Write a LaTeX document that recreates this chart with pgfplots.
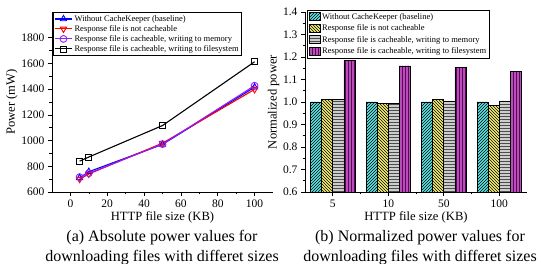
\documentclass[border=0pt]{standalone}
\usepackage{pgfplots}
\pgfplotsset{compat=1.18}
\usetikzlibrary{patterns}
\usepackage{fontspec}
\setmainfont{Liberation Serif}
\definecolor{mviolet}{RGB}{140,30,255}
\definecolor{bcyan}{RGB}{90,230,230}
\definecolor{byellow}{RGB}{245,240,110}
\definecolor{bgray}{RGB}{205,205,205}
\definecolor{bpurple}{RGB}{190,75,190}
\definecolor{bpurpledark}{RGB}{80,15,80}
\begin{document}
\begin{tikzpicture}
\useasboundingbox (0pt,0pt) rectangle (541pt,264pt);
\pgfplotsset{
  common/.style={
    scale only axis,
    anchor=south west,
    axis x line*=bottom,
    axis y line*=left,
    axis line style={line width=0.8pt},
    tick align=outside,
    tick style={black, line width=0.6pt},
    major tick length=4pt,
    minor tick length=2.5pt,
    /pgf/number format/assume math mode=true,
    /pgf/number format/set thousands separator={},
    tick label style={font=\fontsize{11.5}{13}\selectfont},
    label style={font=\fontsize{12.6}{14}\selectfont},
    legend style={font=\fontsize{8.5}{10}\selectfont, draw=black, line width=0.6pt, inner sep=1pt, row sep=-1.5pt},
  }
}
\begin{axis}[common,
  at={(52pt,72pt)}, width=221pt, height=180pt,
  xmin=-10, xmax=110, ymin=600, ymax=2000,
  xtick={0,20,...,100}, minor x tick num=1,
  ytick={600,800,...,1800}, minor y tick num=1,
  xlabel={HTTP file size (KB)}, ylabel={Power (mW)},
  xlabel style={yshift=3pt},
  ylabel style={yshift=-3pt},
  legend style={at={(0.005,1)}, anchor=north west, legend cell align=left},
  every axis plot/.append style={line width=1.1pt},
]
\addplot[blue, mark=triangle, mark size=3.6pt, mark options={solid, fill=white, line width=0.9pt}]
  coordinates {(5,710) (10,758) (50,970) (100,1415)};
\addlegendentry{Without CacheKeeper (baseline)}
\addplot[red, mark=triangle, mark size=3.6pt, mark options={solid, rotate=180, fill=white, line width=0.9pt}]
  coordinates {(5,700) (10,740) (50,980) (100,1398)};
\addlegendentry{Response file is not cacheable}
\addplot[mviolet, mark=o, mark size=3.4pt, mark options={solid, fill=white, line width=0.9pt}]
  coordinates {(5,716) (10,746) (50,972) (100,1427)};
\addlegendentry{Response file is cacheable, writing to memory}
\addplot[black, mark=square, mark size=3pt, mark options={solid, fill=white, line width=0.8pt}]
  coordinates {(5,840) (10,872) (50,1117) (100,1613)};
\addlegendentry{Response file is cacheable, writing to filesystem}
\end{axis}

\begin{axis}[common,
  at={(305pt,72pt)}, width=222pt, height=180pt,
  xmin=-0.5, xmax=3.5, ymin=0.6, ymax=1.4,
  xtick={0,1,2,3}, xticklabels={5,10,50,100},
  minor xtick={0.5,1.5,2.5},
  ytick={0.6,0.7,...,1.4}, minor y tick num=1,
  yticklabel style={/pgf/number format/.cd, fixed, fixed zerofill, precision=1},
  xlabel={HTTP file size (KB)}, ylabel={Normalized power},
  xlabel style={yshift=3pt},
  ylabel style={yshift=-3pt},
  ybar=0pt, bar width=0.2,
  legend style={at={(0.01,1.01)}, anchor=north west, legend cell align=left, row sep=0pt},
  legend image code/.code={\draw[#1] (0pt,-3.5pt) rectangle (11pt,4.5pt);},
]
\addplot[draw=black, line width=0.6pt, fill=bcyan, postaction={pattern=north east lines, pattern color=black}]
  coordinates {(0,1.0) (1,1.0) (2,1.0) (3,1.0)};
\addlegendentry{Without CacheKeeper (baseline)}
\addplot[draw=black, line width=0.6pt, fill=byellow, postaction={pattern=north west lines, pattern color=black}]
  coordinates {(0,1.01) (1,0.993) (2,1.012) (3,0.986)};
\addlegendentry{Response file is not cacheable}
\addplot[draw=black, line width=0.6pt, fill=bgray, postaction={pattern=horizontal lines, pattern color=black!70}]
  coordinates {(0,1.01) (1,0.992) (2,1.005) (3,1.005)};
\addlegendentry{Response file is cacheable, writing to memory}
\addplot[draw=black, line width=0.6pt, fill=bpurple, postaction={pattern=vertical lines, pattern color=bpurpledark}]
  coordinates {(0,1.185) (1,1.16) (2,1.153) (3,1.137)};
\addlegendentry{Response file is cacheable, writing to filesystem}
\end{axis}

\node[align=center, font=\fontsize{16}{20}\selectfont] at (162pt,16pt) {(a) Absolute power values for\\downloading files with differet sizes};
\node[align=center, font=\fontsize{16}{20}\selectfont] at (420pt,16pt) {(b) Normalized power values for\\downloading files with differet sizes};
\end{tikzpicture}
\end{document}
